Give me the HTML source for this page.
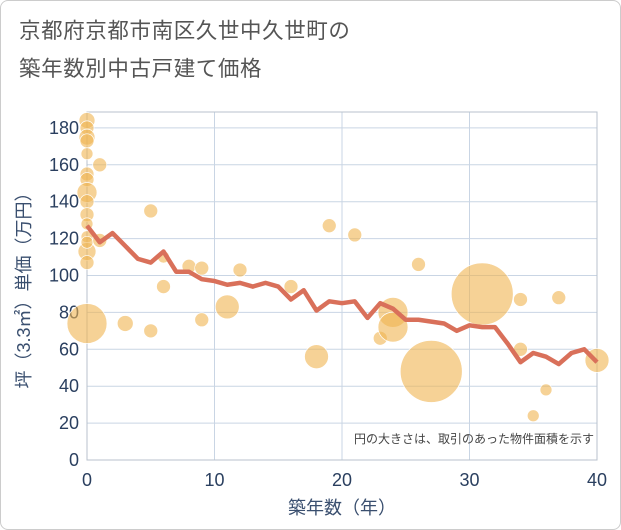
<!DOCTYPE html>
<html><head><meta charset="utf-8"><style>
html,body{margin:0;padding:0;background:#fff}
#wrap{position:relative;width:619px;height:528px;border:1px solid #ccc;border-radius:8px;overflow:hidden;font-family:"Liberation Sans","Noto Sans CJK JP",sans-serif}
.t{position:absolute;left:18px;color:#555;font-size:21.5px;letter-spacing:0.6px}
</style></head><body>
<div id="wrap">
<div class="t" style="top:13px">京都府京都市南区久世中久世町の</div>
<div class="t" style="top:51px">築年数別中古戸建て価格</div>
<svg id="svg" width="621" height="530" style="position:absolute;left:-1px;top:-1px"></svg>
</div>
<script>
const years=[0,1,2,3,4,5,6,7,8,9,10,11,12,13,14,15,16,17,18,19,20,21,22,23,24,25,26,27,28,29,30,31,32,33,34,35,36,37,38,39,40];
const avgPrice=[127,118,123,116,109,107,113,102,102,98,97,95,96,94,96,94,87,92,81,86,85,86,77,85,82,76,76,75,74,70,73,72,72,63,53,58,56,52,58,60,53];
const bubbleX=[0,0,0,0,0,0,0,0,0,0,0,0,0,0,0,0,1,1,5,6,6,8,9,9,11,12,3,5,16,18,19,21,23,24,24,26,27,31,34,34,35,36,37,40];
const bubbleY=[184,180,175,173,166,155,152,145,140,133,128,121,113,107,74,118,160,119,135,110,94,105,104,76,83,103,74,70,94,56,127,122,66,80,72,106,48,90,87,60,24,38,88,54];
const bubbleSize=[8,7,8,7,6,7,7,10,7,7,6,6,9,7,20,6,7,7,7,6,7,7,7,7,12,7,8,7,7,12,7,7,7,15,15,7,31,31,7,7,6,6,7,12];
const xTicks=[0,10,20,30,40];
const yTicks=[0,20,40,60,80,100,120,140,160,180];
const L=87,R=597,T=112,B=460;
const X=v=>L+(v-0)/40*(R-L);
const Y=v=>B-v*1.845;
const s=document.getElementById('svg');const NS='http://www.w3.org/2000/svg';
function mk(tag,a){const e=document.createElementNS(NS,tag);for(const k in a)e.setAttribute(k,a[k]);s.appendChild(e);return e;}
let g;
yTicks.forEach(v=>{if(v>0){g=mk('line',{x1:L,x2:R,y1:Y(v),y2:Y(v),stroke:'#c9d5e4','stroke-width':1});

}
const t=mk('text',{x:L-8,y:Y(v)+6,'text-anchor':'end','font-size':18,fill:'#2a3f5f'});t.textContent=v;

});
xTicks.forEach(v=>{if(v>0&&v<40){g=mk('line',{x1:X(v),x2:X(v),y1:T,y2:B,stroke:'#c9d5e4','stroke-width':1});

}
const t=mk('text',{x:X(v),y:B+26,'text-anchor':'middle','font-size':18,fill:'#2a3f5f'});t.textContent=v;

});
g=mk('rect',{x:L,y:T,width:R-L,height:B-T,fill:'none',stroke:'#b8c2cc','stroke-width':1});


bubbleX.forEach((x,i)=>{const c=mk('circle',{cx:X(x),cy:Y(bubbleY[i]),r:bubbleSize[i],fill:'rgba(240,180,80,0.6)',stroke:'#fff','stroke-width':0.7});

});
const p=mk('polyline',{points:years.map((y,i)=>X(y)+','+Y(avgPrice[i])).join(' '),fill:'none',stroke:'#d9705a','stroke-width':4.5,'stroke-linejoin':'round'});


let t=mk('text',{x:594,y:443,'text-anchor':'end','font-size':12,fill:'#444'});t.textContent='円の大きさは、取引のあった物件面積を示す';


t=mk('text',{x:342,y:514,'text-anchor':'middle','font-size':18,fill:'#3a4f6f'});t.textContent='築年数（年）';


t=mk('text',{x:30,y:286,'text-anchor':'middle','font-size':18,fill:'#3a4f6f',transform:'rotate(-90 30 286)'});t.textContent='坪（3.3㎡）単価（万円）';


</script>
</body></html>
